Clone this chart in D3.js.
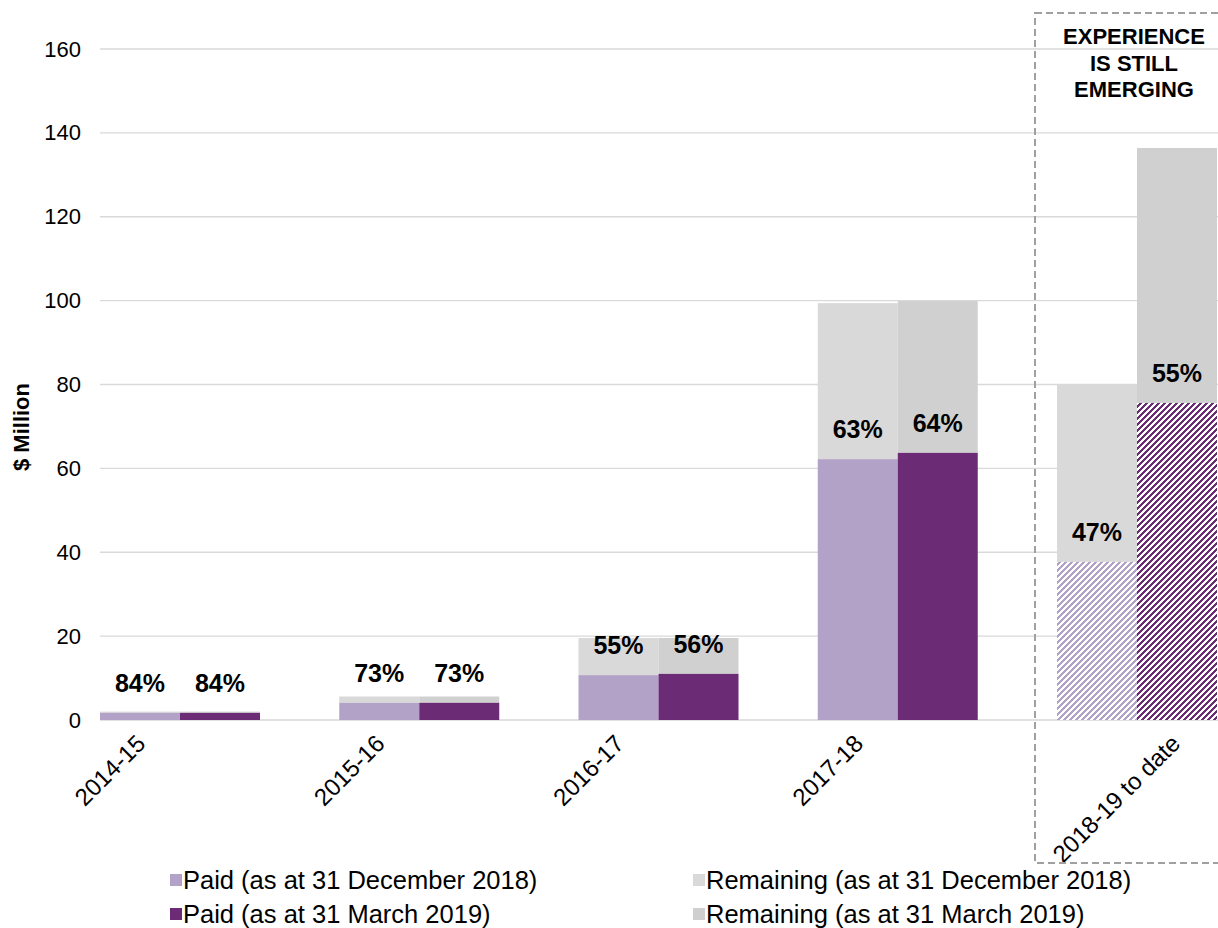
<!DOCTYPE html>
<html><head><meta charset="utf-8">
<script src="https://cdn.jsdelivr.net/npm/d3@7"></script>
<style>
html,body{margin:0;padding:0;background:#fff;}
svg{display:block;font-family:Arial,"Liberation Sans",sans-serif;}
</style></head>
<body>
<svg id="chart" width="1218" height="928"></svg>
<script>
const categories = ["2014-15", "2015-16", "2016-17", "2017-18", "2018-19 to date"];
const paidDec = [1.7, 4.1, 10.7, 62.2, 37.7];
const remainingDec = [0.3, 1.5, 8.85, 37.2, 42.2];
const paidMar = [1.7, 4.1, 11.0, 63.7, 75.6];
const remainingMar = [0.3, 1.5, 8.55, 36.2, 60.8];
const pctDec = ["84%", "73%", "55%", "63%", "47%"];
const pctMar = ["84%", "73%", "56%", "64%", "55%"];
const emerging = [false, false, false, false, true];
const yTicks = [0, 20, 40, 60, 80, 100, 120, 140, 160];
const legendLabels = ["Paid (as at 31 December 2018)", "Remaining (as at 31 December 2018)",
                      "Paid (as at 31 March 2019)", "Remaining (as at 31 March 2019)"];
const boxLines = ["EXPERIENCE", "IS STILL", "EMERGING"];

const C = {paidDec:"#B3A2C7", paidMar:"#6B2C75", remDec:"#D9D9D9", remMar:"#D0D0D0"};

const svg = d3.select("#chart");
const defs = svg.append("defs");
function hatch(id, color){
  const n = 6;
  const p = defs.append("pattern").attr("id", id).attr("patternUnits","userSpaceOnUse")
    .attr("width",n).attr("height",n);
  p.append("rect").attr("width",n).attr("height",n).attr("fill","#fff");
  for(let r=0;r<n;r++) for(let c=0;c<n;c++){
    if(((c+r)%n) < n/2) p.append("rect").attr("x",c).attr("y",r).attr("width",1).attr("height",1)
      .attr("fill",color).attr("shape-rendering","crispEdges");
  }
}
hatch("hDec", C.paidDec);
hatch("hMar", C.paidMar);

const y = d3.scaleLinear().domain([0,160]).range([720,49]);
const x0 = d3.scaleBand().domain(categories).range([100, 100 + 5*239.25]).padding(0);
const x1 = d3.scaleBand().domain(["dec","mar"]).range([0,160]).padding(0);

// gridlines
svg.append("g").selectAll("line").data(yTicks).join("line")
  .attr("x1",100).attr("x2",1218).attr("y1",d=>y(d)).attr("y2",d=>y(d))
  .attr("stroke","#D9D9D9").attr("stroke-width",1.3);

// y axis
const yAxis = svg.append("g").attr("transform","translate(100,0)")
  .call(d3.axisLeft(y).tickValues(yTicks).tickSize(0).tickPadding(19));
yAxis.select(".domain").remove();
yAxis.selectAll("text").attr("font-size",22).attr("fill","#000").attr("font-family","Arial, 'Liberation Sans', sans-serif");

svg.append("text").attr("transform","translate(29,427) rotate(-90)")
  .attr("text-anchor","middle").attr("font-size",22).attr("font-weight","bold").text("$ Million");

// bars
const rows = categories.map((c,i)=>({c,i}));
const series = [
  {k:"dec", paid:paidDec, rem:remainingDec, pc:C.paidDec, rc:C.remDec, hatch:"url(#hDec)", pct:pctDec},
  {k:"mar", paid:paidMar, rem:remainingMar, pc:C.paidMar, rc:C.remMar, hatch:"url(#hMar)", pct:pctMar}
];
const bars = svg.append("g");
series.forEach(s=>{
  bars.selectAll(null).data(rows).join("rect")
    .attr("x",d=>x0(d.c)+x1(s.k)).attr("width",x1.bandwidth())
    .attr("y",d=>y(s.paid[d.i]+s.rem[d.i])).attr("height",d=>y(s.paid[d.i])-y(s.paid[d.i]+s.rem[d.i]))
    .attr("fill",s.rc);
  bars.selectAll(null).data(rows).join("rect")
    .attr("x",d=>x0(d.c)+x1(s.k)).attr("width",x1.bandwidth())
    .attr("y",d=>y(s.paid[d.i])).attr("height",d=>y(0)-y(s.paid[d.i]))
    .attr("fill",d=>emerging[d.i]?s.hatch:s.pc);
  bars.selectAll(null).data(rows).join("text")
    .attr("x",d=>x0(d.c)+x1(s.k)+x1.bandwidth()/2).attr("y",d=>y(s.paid[d.i])-21)
    .attr("text-anchor","middle").attr("font-size",25).attr("font-weight","bold")
    .text(d=>s.pct[d.i]);
});

// x labels
const xl = svg.append("g");
const xt = xl.selectAll("text").data(rows).join("text")
  .attr("font-size",24).attr("text-anchor","end").text(d=>d.c);
const Lref = xt.nodes()[0].getComputedTextLength();
xt.each(function(d){
    const L = this.getComputedTextLength();
    const cx = x0(d.c) + 80;
    const ex = cx - 33 + 0.97*(L - Lref);
    d3.select(this).attr("transform",`translate(${ex},745) rotate(-45)`);
  });

// dashed box
svg.append("rect").attr("x",1035).attr("y",13).attr("width",300).attr("height",850)
  .attr("fill","none").attr("stroke","#A0A0A0").attr("stroke-width",2).attr("stroke-dasharray","7,4");
svg.append("g").selectAll("text").data(boxLines).join("text")
  .attr("x",1134).attr("y",(d,i)=>44+i*26.5).attr("text-anchor","middle")
  .attr("font-size",22).attr("font-weight","bold").text(d=>d);

// legend
const legColors = [C.paidDec, C.remDec, C.paidMar, "#CFCFCF"];
const lg = svg.append("g");
legendLabels.forEach((t,i)=>{
  const lx = i%2===0 ? 170 : 693;
  const ly = i<2 ? 880 : 914;
  lg.append("rect").attr("x",lx).attr("y",ly-6).attr("width",12).attr("height",12).attr("fill",legColors[i]);
  lg.append("text").attr("x",lx+13).attr("y",ly+9).attr("font-size",25.5).text(t);
});
</script>
</body></html>
